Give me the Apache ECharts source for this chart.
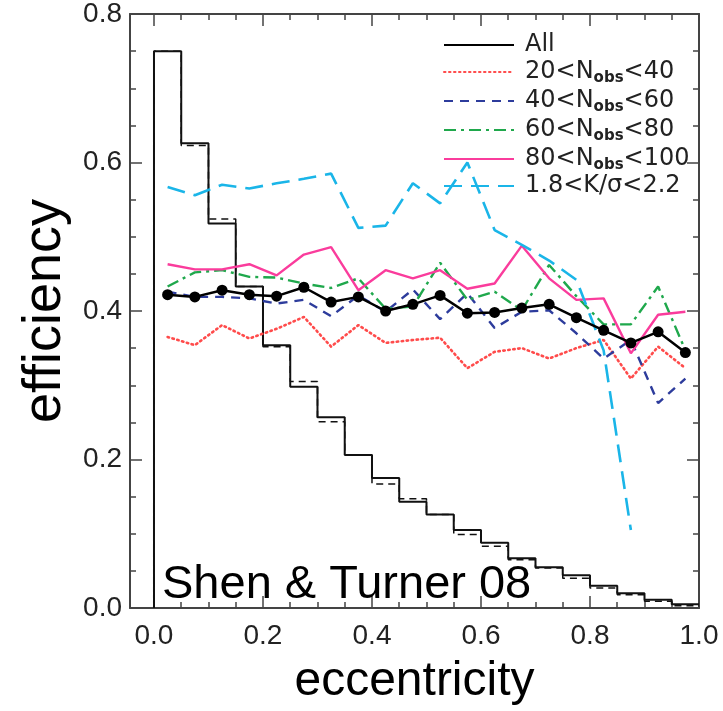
<!DOCTYPE html>
<html><head><meta charset="utf-8">
<script src="https://cdn.jsdelivr.net/npm/echarts@6/dist/echarts.min.js"></script>
<style>html,body{margin:0;padding:0;background:#fff}#c{width:723px;height:711px}</style>
</head><body><div id="c"></div>
<script>
// ---- data ----
const binEdges = [0.00,0.05,0.10,0.15,0.20,0.25,0.30,0.35,0.40,0.45,0.50,0.55,0.60,0.65,0.70,0.75,0.80,0.85,0.90,0.95,1.00];
const binCenters = [0.025,0.075,0.125,0.175,0.225,0.275,0.325,0.375,0.425,0.475,0.525,0.575,0.625,0.675,0.725,0.775,0.825,0.875,0.925,0.975];
const histSolid  = [0.750,0.626,0.518,0.433,0.354,0.298,0.257,0.206,0.175,0.143,0.126,0.105,0.088,0.067,0.055,0.044,0.030,0.020,0.011,0.005];
const histDashed = [0.750,0.623,0.524,0.433,0.352,0.305,0.251,0.206,0.167,0.147,0.126,0.099,0.083,0.065,0.054,0.040,0.027,0.018,0.009,0.003];
const effAll     = [0.422,0.419,0.428,0.422,0.420,0.432,0.412,0.419,0.400,0.409,0.421,0.397,0.398,0.404,0.409,0.391,0.374,0.357,0.372,0.344];
const eff20to40  = [0.365,0.354,0.381,0.363,0.376,0.392,0.352,0.381,0.357,0.361,0.364,0.323,0.345,0.350,0.336,0.350,0.361,0.309,0.352,0.323];
const eff40to60  = [0.426,0.419,0.419,0.417,0.410,0.415,0.393,0.421,0.399,0.429,0.389,0.424,0.377,0.399,0.401,0.370,0.336,0.361,0.276,0.309];
const eff60to80  = [0.433,0.452,0.455,0.446,0.445,0.437,0.431,0.444,0.403,0.406,0.465,0.415,0.426,0.401,0.462,0.420,0.382,0.382,0.433,0.347];
const eff80to100 = [0.463,0.456,0.456,0.463,0.448,0.476,0.486,0.428,0.455,0.444,0.455,0.430,0.437,0.488,0.444,0.415,0.417,0.343,0.395,0.399];
const effKsigma  = [0.567,0.556,0.570,0.565,0.572,0.578,0.585,0.512,0.515,0.572,0.545,0.600,0.509,0.489,0.468,0.442,0.347,0.105,null,null];
const xMajorTicks = [0.0,0.2,0.4,0.6,0.8,1.0];
const xMinorTicks = [0.05,0.10,0.15,0.25,0.30,0.35,0.45,0.50,0.55,0.65,0.70,0.75,0.85,0.90,0.95];
const seriesNames = ['All','20<Nobs<40','40<Nobs<60','60<Nobs<80','80<Nobs<100','1.8<K/σ<2.2'];
const legendLabels = {
  'All':'All',
  '20<Nobs<40':'20<N{sub|obs}<40',
  '40<Nobs<60':'40<N{sub|obs}<60',
  '60<Nobs<80':'60<N{sub|obs}<80',
  '80<Nobs<100':'80<N{sub|obs}<100',
  '1.8<K/σ<2.2':'1.8<K/σ<2.2'
};
const xTitle = 'eccentricity';
const yTitle = 'efficiency';
const noteText = 'Shen & Turner 08';

// ---- build ----
const SANS = "'Liberation Sans', sans-serif";
const LEG = "'DejaVu Sans', sans-serif";
const FRAME = '#444';
function stepPts(vals){
  const p = [[binEdges[0], 0]];
  for (let i = 0; i < vals.length; i++) p.push([binEdges[i], vals[i]]);
  p.push([binEdges[binEdges.length-1], vals[vals.length-1]]);
  return p;
}
function linePts(vals){
  return binCenters.map((x,i)=>[x, vals[i]]).filter(p=>p[1]!==null);
}
const XMIN = -0.044, XMAX = 1.0;
function xAx(pos, values, len, labels, line){
  return {
    type:'value', position:pos, min:XMIN, max:XMAX,
    axisLine:{show:line, onZero:false, lineStyle:{color:FRAME,width:2}},
    axisTick:{show:true, inside:true, length:len, customValues:values, lineStyle:{color:FRAME,width:1.5}},
    axisLabel:{show:labels, customValues:values, margin:14, formatter:v=>v.toFixed(1),
      fontFamily:SANS, fontSize:28, color:'#222'},
    splitLine:{show:false}
  };
}
function yAx(pos, labels){
  return {
    type:'value', position:pos, min:0, max:0.8, interval:0.2,
    axisLine:{show:true, onZero:false, lineStyle:{color:FRAME,width:2}},
    axisTick:{show:true, inside:true, length:12, lineStyle:{color:FRAME,width:1.5}},
    minorTick:{show:true, splitNumber:4, length:6, lineStyle:{color:FRAME,width:1.5}},
    axisLabel:{show:labels, margin:8, formatter:v=>v.toFixed(1), fontFamily:SANS, fontSize:28, color:'#222'},
    splitLine:{show:false}
  };
}
const xAxes = [
  xAx('bottom', xMajorTicks, 12, true, true),
  xAx('bottom', xMinorTicks, 6, false, false),
  xAx('top', xMajorTicks, 12, false, true),
  xAx('top', xMinorTicks, 6, false, false)
];
Object.assign(xAxes[0], {name:xTitle, nameLocation:'middle', nameGap:50,
  nameTextStyle:{fontFamily:SANS, fontSize:48, color:'#000'}});
const yAxes = [yAx('left', true), yAx('right', false)];
Object.assign(yAxes[0], {name:yTitle, nameLocation:'middle', nameGap:58, nameRotate:90,
  nameTextStyle:{fontFamily:SANS, fontSize:54, color:'#000'}});

function ln(name, vals, color, type, width, extra){
  return Object.assign({
    name, type:'line', data:linePts(vals), symbol:'none', smooth:false,
    lineStyle:{color, type, width, cap:'butt'}, itemStyle:{color}, z:3
  }, extra||{});
}
const option = {
  animation:false,
  backgroundColor:'#fff',
  title:{text:noteText, left:162, top:562, padding:0,
    textStyle:{fontFamily:SANS, fontSize:47, fontWeight:'normal', color:'#000'}},
  grid:{left:130, right:24, top:13, bottom:102, containLabel:false},
  xAxis:xAxes, yAxis:yAxes,
  legend:{
    data:seriesNames, orient:'vertical', left:443, top:33, padding:0,
    itemWidth:70, itemHeight:12, itemGap:1, selectedMode:false,
    itemStyle:{opacity:0},
    formatter:n=>legendLabels[n],
    textStyle:{fontFamily:LEG, fontSize:24, color:'#222', lineHeight:22, padding:[0,0,0,6],
      rich:{sub:{fontFamily:LEG, fontSize:15, fontWeight:'bold', lineHeight:22, padding:[13,0,0,0], color:'#222'}}}
  },
  series:[
    {name:'histDashed', type:'line', step:'end', data:stepPts(histDashed), symbol:'none',
      lineStyle:{color:'#111', type:[7,5], width:1.5}, z:1},
    {name:'histSolid', type:'line', step:'end', data:stepPts(histSolid), symbol:'none',
      lineStyle:{color:'#111', type:'solid', width:2}, z:2},
    ln('20<Nobs<40', eff20to40, '#ff4b4b', [1.5,3.5], 2.5, {lineStyle:{color:'#ff4b4b', type:[1.5,3.5], width:2.6, cap:'round'}}),
    ln('40<Nobs<60', eff40to60, '#2d3c9c', [9,7], 2.4),
    ln('60<Nobs<80', eff60to80, '#1fa84c', [12,5,3,5], 2.4),
    ln('80<Nobs<100', eff80to100, '#fa3c9c', 'solid', 2.4),
    ln('1.8<K/σ<2.2', effKsigma, '#1ab5e8', [18,9], 2.6),
    ln('All', effAll, '#000', 'solid', 2.5, {symbol:'circle', symbolSize:11, showSymbol:true, z:5})
  ]
};
const chart = echarts.init(document.getElementById('c'), null, {renderer:'canvas'});
chart.setOption(option);
</script>
</body></html>
